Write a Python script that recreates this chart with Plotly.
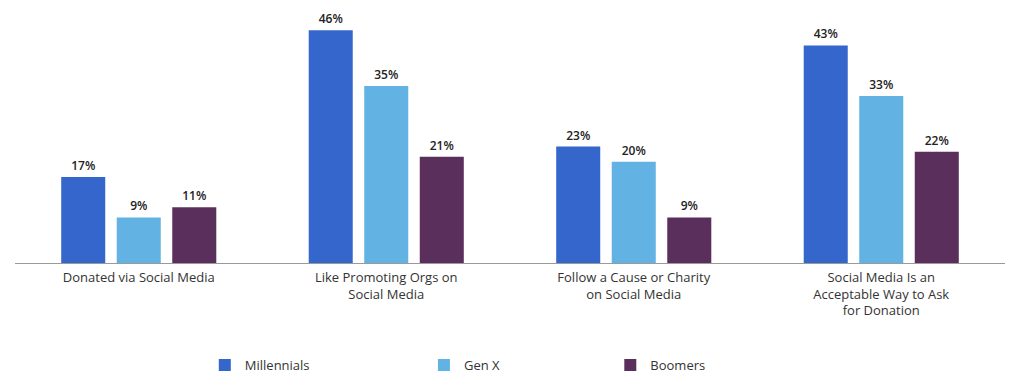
import plotly.graph_objects as go

categories = [
    "Donated via Social Media",
    "Like Promoting Orgs on<br>Social Media",
    "Follow a Cause or Charity<br>on Social Media",
    "Social Media Is an<br>Acceptable Way to Ask<br>for Donation",
]
millennials = [17, 46, 23, 43]
gen_x = [9, 35, 20, 33]
boomers = [11, 21, 9, 22]

series = [
    ("Millennials", millennials, "#3466CC", "legend", 0.200),
    ("Gen X", gen_x, "#62B2E4", "legend2", 0.414),
    ("Boomers", boomers, "#5B2F5C", "legend3", 0.596),
]

FONT = "Open Sans"
fig = go.Figure()
for name, vals, color, leg, lx in series:
    fig.add_trace(go.Bar(
        x=categories, y=vals, name=name,
        marker=dict(color=color, line=dict(width=0)),
        text=[f"{v}%" for v in vals], textposition="outside",
        textfont=dict(family=FONT, size=12, color="#222222", weight=600),
        cliponaxis=False, legend=leg,
    ))

legend_common = dict(orientation="h", xref="container", yref="container",
                     y=0.064, yanchor="middle", xanchor="left",
                     font=dict(family=FONT, size=13, color="#333333"),
                     bgcolor="rgba(0,0,0,0)")
layout_legends = {}
for name, vals, color, leg, lx in series:
    layout_legends[leg] = dict(legend_common, x=lx)

fig.update_layout(
    width=1024, height=390,
    margin=dict(l=15, r=19, t=10, b=127),
    paper_bgcolor="white", plot_bgcolor="white",
    barmode="group", bargap=0.327, bargroupgap=0.207,
    font=dict(family=FONT, size=13, color="#333333"),
    xaxis=dict(showline=True, linecolor="#9A9A9A", linewidth=1,
               ticks="", tickfont=dict(family=FONT, size=13, color="#333333"),
               ticklabelstandoff=2, showgrid=False),
    yaxis=dict(range=[0, 50], visible=False, showgrid=False),
    showlegend=True,
    **layout_legends,
)

fig.write_html("out.html")
